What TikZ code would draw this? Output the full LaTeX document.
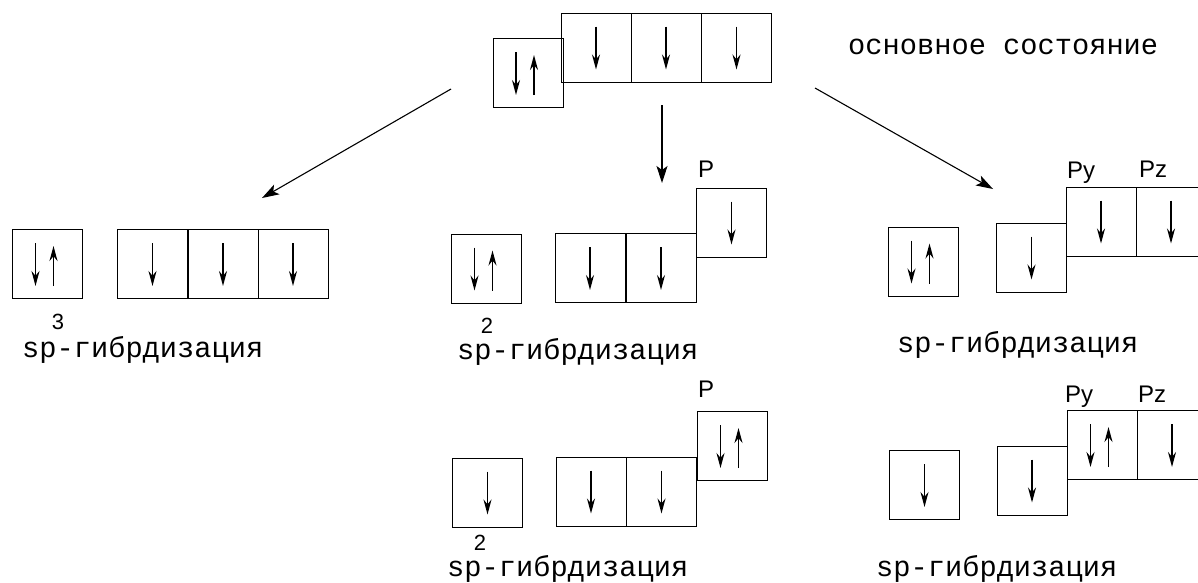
\documentclass[tikz,border=0pt]{standalone}
\usepackage{fontspec}
\setmainfont{Liberation Sans}
\newfontfamily\monofont{Liberation Mono}
\usetikzlibrary{arrows.meta}
\tikzset{
 orb/.style={draw,line width=1pt,minimum width=70pt,minimum height=69pt,inner sep=0pt},
 spin/.style={line width=1.5pt,-{Stealth[length=15pt,width=8pt]}},
 link/.style={line width=1.1pt,-{Stealth[length=17pt,width=11pt,inset=4pt]}},
 hyb/.style={font=\monofont\fontsize{28.7}{30}\selectfont,inner sep=0pt},
 sub/.style={font=\fontsize{24}{26}\selectfont,inner sep=0pt,anchor=base west},
 idx/.style={font=\fontsize{22}{24}\selectfont,inner sep=0pt}
}
\newcommand{\spindn}[1]{\draw[spin] (#1.center) ++(0,-21) -- ++(0,43);}
\newcommand{\spinpair}[1]{\draw[spin] (#1.center) ++(-12,-21) -- ++(0,43);
 \draw[spin] (#1.center) ++(6,22) -- ++(0,-40);}
\begin{document}
\begin{tikzpicture}[x=1pt,y=-1pt]
 \useasboundingbox (0,0) rectangle (1198,582);
 % ground state
 \node[orb] (g0) at (528,73) {};
 \node[orb] (g1) at (596,47.5) {};
 \node[orb] (g2) at (666,47.5) {};
 \node[orb] (g3) at (736.5,47.5) {};
 \spinpair{g0} \spindn{g1} \spindn{g2} \spindn{g3}
 \node[hyb,anchor=west] (gtxt) at (848,47) {основное состояние};
 % sp3
 \node[orb] (a0) at (47.5,264) {};
 \node[orb] (a1) at (152.5,264) {};
 \node[orb] (a2) at (223,264) {};
 \node[orb] (a3) at (293,264) {};
 \spinpair{a0} \spindn{a1} \spindn{a2} \spindn{a3}
 \node[idx] (a3i) at (58,322) {3};
 \node[hyb,anchor=west] (atxt) at (22,350) {sp-гибрдизация};
 % sp2
 \node[orb] (b0) at (486.5,268.5) {};
 \node[orb] (b1) at (590,268) {};
 \node[orb] (b2) at (661,268) {};
 \node[orb] (bp) at (731.5,222.5) {};
 \spinpair{b0} \spindn{b1} \spindn{b2} \spindn{bp}
 \node[sub] (bpl) at (698,177) {P};
 \node[idx] (b2i) at (487,326) {2};
 \node[hyb,anchor=west] (btxt) at (457,352) {sp-гибрдизация};
 % sp
 \node[orb] (c0) at (923.5,261.5) {};
 \node[orb] (c1) at (1031.5,257.5) {};
 \node[orb] (cy) at (1101,221.5) {};
 \node[orb] (cz) at (1171,221.5) {};
 \spinpair{c0} \spindn{c1} \spindn{cy} \spindn{cz}
 \node[sub] (cyl) at (1067,178) {Py};
 \node[sub] (czl) at (1139,177) {Pz};
 \node[hyb,anchor=west] (ctxt) at (897,345) {sp-гибрдизация};
 % sp2, excited
 \node[orb] (d0) at (487.5,492.5) {};
 \node[orb] (d1) at (591,491.5) {};
 \node[orb] (d2) at (661.5,491.5) {};
 \node[orb] (dp) at (732.5,446) {};
 \spindn{d0} \spindn{d1} \spindn{d2} \spinpair{dp}
 \node[sub] (dpl) at (698,397) {P};
 \node[idx] (d2i) at (480,543) {2};
 \node[hyb,anchor=west] (dtxt) at (447,569) {sp-гибрдизация};
 % sp, excited
 \node[orb] (e0) at (924.5,485) {};
 \node[orb] (e1) at (1032,480.5) {};
 \node[orb] (ey) at (1102.5,445) {};
 \node[orb] (ez) at (1172,445) {};
 \spindn{e0} \spindn{e1} \spinpair{ey} \spindn{ez}
 \node[sub] (eyl) at (1065,402) {Py};
 \node[sub] (ezl) at (1138,402) {Pz};
 \node[hyb,anchor=west] (etxt) at (876,569) {sp-гибрдизация};
 % arrows
 \coordinate (lfrom) at (451,89);
 \coordinate (lto) at (262,198);
 \coordinate (mfrom) at (662,105);
 \coordinate (mto) at (662,183);
 \coordinate (rfrom) at (815,88);
 \coordinate (rto) at (993,189);
 \draw[link] (lfrom) -- (lto);
 \draw[link] (mfrom) -- (mto);
 \draw[link] (rfrom) -- (rto);
\end{tikzpicture}
\end{document}
